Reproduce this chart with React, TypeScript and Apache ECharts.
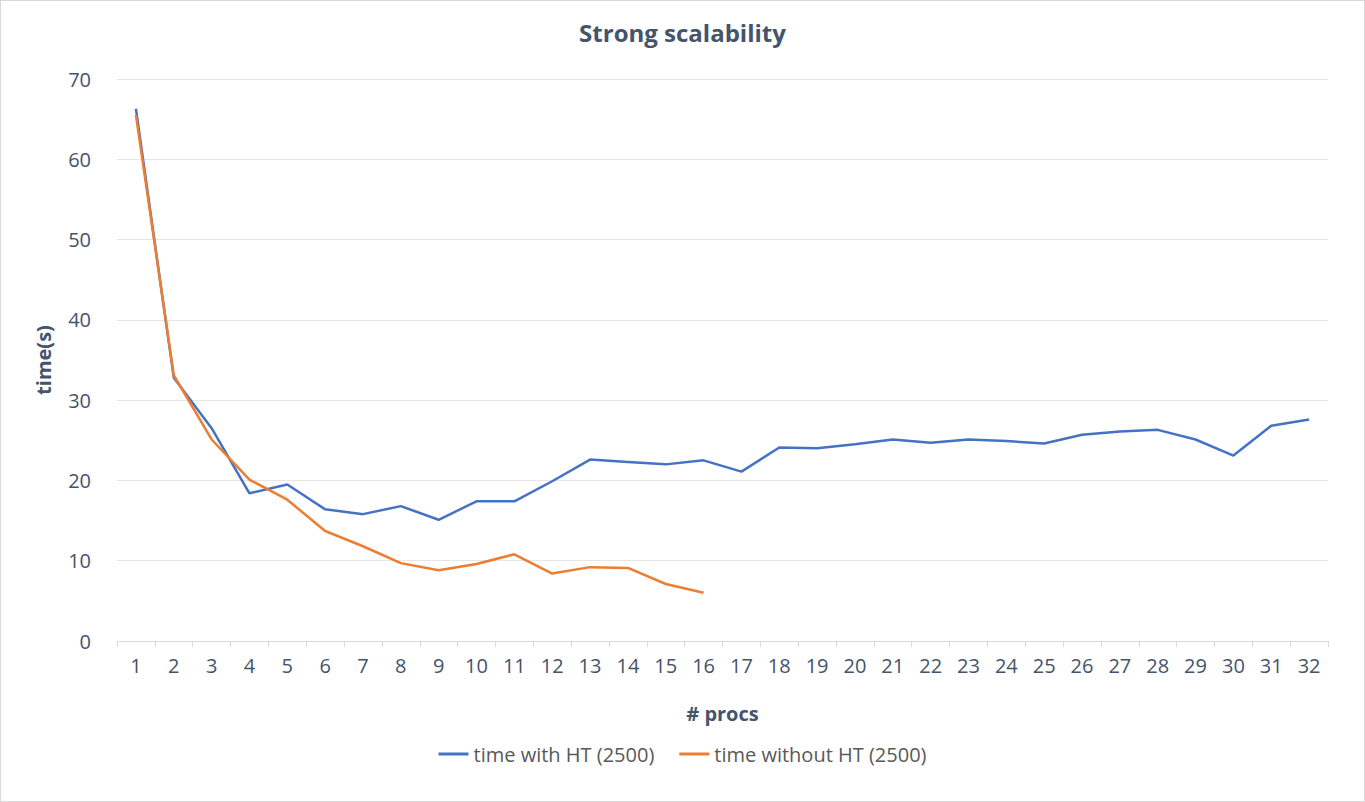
import { useEffect, useRef } from "react";
import * as echarts from "echarts";

const procs = Array.from({ length: 32 }, (_, i) => String(i + 1));
const withHT = [
  66.3, 32.8, 26.5, 18.4, 19.5, 16.4, 15.8, 16.8, 15.1, 17.4, 17.4, 19.9, 22.6, 22.3, 22.0, 22.5,
  21.1, 24.1, 24.0, 24.5, 25.1, 24.7, 25.1, 24.9, 24.6, 25.7, 26.1, 26.3, 25.1, 23.1, 26.8, 27.6,
];
const withoutHT = [65.5, 33.1, 25.1, 20.1, 17.6, 13.7, 11.8, 9.7, 8.8, 9.6, 10.8, 8.4, 9.2, 9.1, 7.1, 6.0];

const font = "'Open Sans', sans-serif";
const grey = "#595959";
const slate = "#44546A";

export default function App() {
  const ref = useRef<HTMLDivElement>(null);

  useEffect(() => {
    document.body.style.margin = "0";
    if (!ref.current) return;
    const chart = echarts.init(ref.current, undefined, { renderer: "svg" });
    chart.setOption({
      animation: false,
      textStyle: { fontFamily: font },
      title: {
        text: "Strong scalability",
        left: "center",
        top: 14,
        textStyle: { color: slate, fontSize: 24, fontWeight: "bold", fontFamily: font },
      },
      legend: {
        bottom: 32,
        left: "center",
        icon: "rect",
        itemWidth: 30,
        itemHeight: 3,
        itemGap: 25,
        textStyle: { color: grey, fontSize: 20 },
      },
      grid: { left: 116, right: 36, top: 78, bottom: 160 },
      xAxis: {
        type: "category",
        data: procs,
        name: "# procs",
        nameLocation: "middle",
        nameGap: 62,
        nameTextStyle: { color: slate, fontSize: 20, fontWeight: "bold" },
        axisLine: { lineStyle: { color: "#d9d9d9" } },
        axisTick: { show: true, length: 6, lineStyle: { color: "#d9d9d9" } },
        axisLabel: { color: slate, fontSize: 20, margin: 14 },
      },
      yAxis: {
        type: "value",
        min: 0,
        max: 70,
        interval: 10,
        name: "time(s)",
        nameLocation: "middle",
        nameGap: 64,
        nameTextStyle: { color: slate, fontSize: 20, fontWeight: "bold" },
        axisLabel: { color: slate, fontSize: 20, margin: 26 },
        splitLine: { lineStyle: { color: "#e6e6e6" } },
      },
      series: [
        {
          name: "time with HT (2500)",
          type: "line",
          data: withHT,
          showSymbol: false,
          lineStyle: { color: "#4472C4", width: 2.5 },
          itemStyle: { color: "#4472C4" },
        },
        {
          name: "time without HT (2500)",
          type: "line",
          data: withoutHT,
          showSymbol: false,
          lineStyle: { color: "#ED7D31", width: 2.5 },
          itemStyle: { color: "#ED7D31" },
        },
      ],
    });
    return () => chart.dispose();
  }, []);

  return (
    <div
      ref={ref}
      style={{ position: "fixed", left: 0, top: 0, width: 1365, height: 802, boxSizing: "border-box", border: "1px solid #d9d9d9", background: "#fff" }}
    />
  );
}
